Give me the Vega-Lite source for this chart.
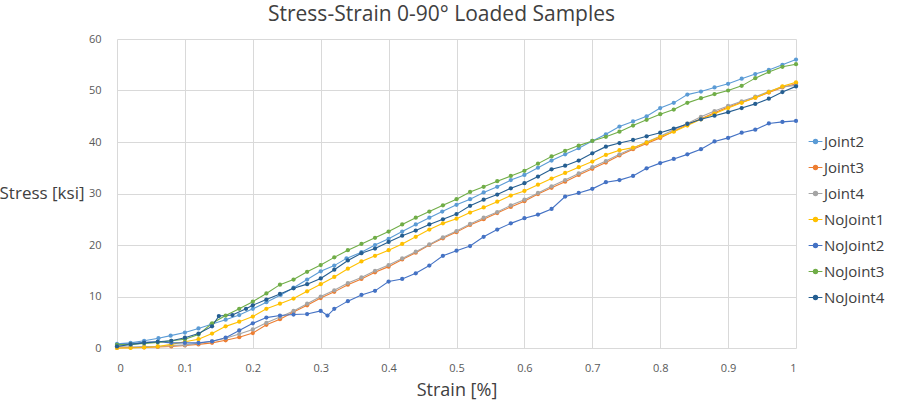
{
  "$schema": "https://vega.github.io/schema/vega-lite/v6.json",
  "width": 679,
  "height": 309,
  "autosize": {"type": "none"},
  "padding": {"left": 117, "top": 39, "right": 106, "bottom": 54},
  "background": "white",
  "title": {
    "text": "Stress-Strain 0-90° Loaded Samples",
    "font": "Open Sans",
    "fontSize": 21,
    "fontWeight": "normal",
    "color": "#404040",
    "anchor": "middle",
    "dx": -15,
    "offset": 8
  },
  "config": {
    "view": {"stroke": null},
    "axis": {
      "labelFont": "Open Sans",
      "labelFontSize": 11,
      "labelColor": "#595959",
      "titleFont": "Open Sans",
      "titleFontSize": 18,
      "titleFontWeight": "normal",
      "titleColor": "#404040",
      "gridColor": "#D9D9D9",
      "gridWidth": 1,
      "ticks": false,
      "domain": false
    },
    "legend": {
      "labelFont": "Open Sans",
      "labelFontSize": 15,
      "labelColor": "#404040"
    }
  },
  "data": {
    "values": [
      {"series": "Joint2", "strain": 0.0, "stress": 0.8},
      {"series": "Joint2", "strain": 0.02, "stress": 1.0},
      {"series": "Joint2", "strain": 0.04, "stress": 1.4},
      {"series": "Joint2", "strain": 0.061, "stress": 1.9},
      {"series": "Joint2", "strain": 0.079, "stress": 2.4},
      {"series": "Joint2", "strain": 0.1, "stress": 3.0},
      {"series": "Joint2", "strain": 0.12, "stress": 3.8},
      {"series": "Joint2", "strain": 0.139, "stress": 4.6},
      {"series": "Joint2", "strain": 0.16, "stress": 5.5},
      {"series": "Joint2", "strain": 0.18, "stress": 6.4},
      {"series": "Joint2", "strain": 0.2, "stress": 7.6},
      {"series": "Joint2", "strain": 0.22, "stress": 8.9},
      {"series": "Joint2", "strain": 0.241, "stress": 10.3},
      {"series": "Joint2", "strain": 0.26, "stress": 11.7},
      {"series": "Joint2", "strain": 0.28, "stress": 13.3},
      {"series": "Joint2", "strain": 0.3, "stress": 14.9},
      {"series": "Joint2", "strain": 0.32, "stress": 16.0},
      {"series": "Joint2", "strain": 0.338, "stress": 17.4},
      {"series": "Joint2", "strain": 0.36, "stress": 18.6},
      {"series": "Joint2", "strain": 0.38, "stress": 20.0},
      {"series": "Joint2", "strain": 0.4, "stress": 21.2},
      {"series": "Joint2", "strain": 0.42, "stress": 22.6},
      {"series": "Joint2", "strain": 0.44, "stress": 24.0},
      {"series": "Joint2", "strain": 0.46, "stress": 25.3},
      {"series": "Joint2", "strain": 0.479, "stress": 26.5},
      {"series": "Joint2", "strain": 0.5, "stress": 27.8},
      {"series": "Joint2", "strain": 0.52, "stress": 28.9},
      {"series": "Joint2", "strain": 0.54, "stress": 30.2},
      {"series": "Joint2", "strain": 0.56, "stress": 31.3},
      {"series": "Joint2", "strain": 0.58, "stress": 32.6},
      {"series": "Joint2", "strain": 0.6, "stress": 33.6},
      {"series": "Joint2", "strain": 0.62, "stress": 35.0},
      {"series": "Joint2", "strain": 0.64, "stress": 36.4},
      {"series": "Joint2", "strain": 0.66, "stress": 37.6},
      {"series": "Joint2", "strain": 0.68, "stress": 38.8},
      {"series": "Joint2", "strain": 0.7, "stress": 40.2},
      {"series": "Joint2", "strain": 0.72, "stress": 41.5},
      {"series": "Joint2", "strain": 0.74, "stress": 43.0},
      {"series": "Joint2", "strain": 0.76, "stress": 44.0},
      {"series": "Joint2", "strain": 0.78, "stress": 45.0},
      {"series": "Joint2", "strain": 0.8, "stress": 46.6},
      {"series": "Joint2", "strain": 0.82, "stress": 47.6},
      {"series": "Joint2", "strain": 0.84, "stress": 49.2},
      {"series": "Joint2", "strain": 0.86, "stress": 49.8},
      {"series": "Joint2", "strain": 0.88, "stress": 50.6},
      {"series": "Joint2", "strain": 0.9, "stress": 51.3},
      {"series": "Joint2", "strain": 0.92, "stress": 52.3},
      {"series": "Joint2", "strain": 0.94, "stress": 53.2},
      {"series": "Joint2", "strain": 0.96, "stress": 54.0},
      {"series": "Joint2", "strain": 0.98, "stress": 55.0},
      {"series": "Joint2", "strain": 1.0, "stress": 56.0},

      {"series": "Joint3", "strain": 0.0, "stress": 0.0},
      {"series": "Joint3", "strain": 0.02, "stress": 0.1},
      {"series": "Joint3", "strain": 0.04, "stress": 0.1},
      {"series": "Joint3", "strain": 0.06, "stress": 0.2},
      {"series": "Joint3", "strain": 0.08, "stress": 0.3},
      {"series": "Joint3", "strain": 0.1, "stress": 0.5},
      {"series": "Joint3", "strain": 0.12, "stress": 0.7},
      {"series": "Joint3", "strain": 0.14, "stress": 1.0},
      {"series": "Joint3", "strain": 0.16, "stress": 1.5},
      {"series": "Joint3", "strain": 0.18, "stress": 2.1},
      {"series": "Joint3", "strain": 0.2, "stress": 2.9},
      {"series": "Joint3", "strain": 0.22, "stress": 4.5},
      {"series": "Joint3", "strain": 0.24, "stress": 5.6},
      {"series": "Joint3", "strain": 0.26, "stress": 7.0},
      {"series": "Joint3", "strain": 0.28, "stress": 8.3},
      {"series": "Joint3", "strain": 0.3, "stress": 9.7},
      {"series": "Joint3", "strain": 0.32, "stress": 10.9},
      {"series": "Joint3", "strain": 0.34, "stress": 12.3},
      {"series": "Joint3", "strain": 0.36, "stress": 13.4},
      {"series": "Joint3", "strain": 0.38, "stress": 14.7},
      {"series": "Joint3", "strain": 0.4, "stress": 15.8},
      {"series": "Joint3", "strain": 0.42, "stress": 17.2},
      {"series": "Joint3", "strain": 0.44, "stress": 18.5},
      {"series": "Joint3", "strain": 0.46, "stress": 20.0},
      {"series": "Joint3", "strain": 0.48, "stress": 21.3},
      {"series": "Joint3", "strain": 0.5, "stress": 22.5},
      {"series": "Joint3", "strain": 0.52, "stress": 23.9},
      {"series": "Joint3", "strain": 0.54, "stress": 25.0},
      {"series": "Joint3", "strain": 0.56, "stress": 26.2},
      {"series": "Joint3", "strain": 0.58, "stress": 27.4},
      {"series": "Joint3", "strain": 0.6, "stress": 28.5},
      {"series": "Joint3", "strain": 0.62, "stress": 29.9},
      {"series": "Joint3", "strain": 0.64, "stress": 31.1},
      {"series": "Joint3", "strain": 0.66, "stress": 32.3},
      {"series": "Joint3", "strain": 0.68, "stress": 33.6},
      {"series": "Joint3", "strain": 0.7, "stress": 34.8},
      {"series": "Joint3", "strain": 0.72, "stress": 36.0},
      {"series": "Joint3", "strain": 0.74, "stress": 37.4},
      {"series": "Joint3", "strain": 0.76, "stress": 38.6},
      {"series": "Joint3", "strain": 0.78, "stress": 39.7},
      {"series": "Joint3", "strain": 0.8, "stress": 40.8},
      {"series": "Joint3", "strain": 0.82, "stress": 42.1},
      {"series": "Joint3", "strain": 0.84, "stress": 43.4},
      {"series": "Joint3", "strain": 0.86, "stress": 44.5},
      {"series": "Joint3", "strain": 0.88, "stress": 45.7},
      {"series": "Joint3", "strain": 0.9, "stress": 46.8},
      {"series": "Joint3", "strain": 0.92, "stress": 47.7},
      {"series": "Joint3", "strain": 0.94, "stress": 48.6},
      {"series": "Joint3", "strain": 0.96, "stress": 49.6},
      {"series": "Joint3", "strain": 0.98, "stress": 50.6},
      {"series": "Joint3", "strain": 1.0, "stress": 51.3},

      {"series": "Joint4", "strain": 0.0, "stress": 0.3},
      {"series": "Joint4", "strain": 0.02, "stress": 0.2},
      {"series": "Joint4", "strain": 0.04, "stress": 0.3},
      {"series": "Joint4", "strain": 0.06, "stress": 0.3},
      {"series": "Joint4", "strain": 0.08, "stress": 0.5},
      {"series": "Joint4", "strain": 0.1, "stress": 0.6},
      {"series": "Joint4", "strain": 0.12, "stress": 0.9},
      {"series": "Joint4", "strain": 0.14, "stress": 1.3},
      {"series": "Joint4", "strain": 0.16, "stress": 1.9},
      {"series": "Joint4", "strain": 0.18, "stress": 2.7},
      {"series": "Joint4", "strain": 0.2, "stress": 3.6},
      {"series": "Joint4", "strain": 0.22, "stress": 4.9},
      {"series": "Joint4", "strain": 0.24, "stress": 6.0},
      {"series": "Joint4", "strain": 0.26, "stress": 7.2},
      {"series": "Joint4", "strain": 0.28, "stress": 8.6},
      {"series": "Joint4", "strain": 0.3, "stress": 10.0},
      {"series": "Joint4", "strain": 0.32, "stress": 11.2},
      {"series": "Joint4", "strain": 0.34, "stress": 12.6},
      {"series": "Joint4", "strain": 0.36, "stress": 13.7},
      {"series": "Joint4", "strain": 0.38, "stress": 15.0},
      {"series": "Joint4", "strain": 0.4, "stress": 16.1},
      {"series": "Joint4", "strain": 0.42, "stress": 17.4},
      {"series": "Joint4", "strain": 0.44, "stress": 18.7},
      {"series": "Joint4", "strain": 0.46, "stress": 20.1},
      {"series": "Joint4", "strain": 0.48, "stress": 21.5},
      {"series": "Joint4", "strain": 0.5, "stress": 22.7},
      {"series": "Joint4", "strain": 0.52, "stress": 24.1},
      {"series": "Joint4", "strain": 0.54, "stress": 25.3},
      {"series": "Joint4", "strain": 0.56, "stress": 26.4},
      {"series": "Joint4", "strain": 0.58, "stress": 27.7},
      {"series": "Joint4", "strain": 0.6, "stress": 28.8},
      {"series": "Joint4", "strain": 0.62, "stress": 30.1},
      {"series": "Joint4", "strain": 0.64, "stress": 31.4},
      {"series": "Joint4", "strain": 0.66, "stress": 32.6},
      {"series": "Joint4", "strain": 0.68, "stress": 33.9},
      {"series": "Joint4", "strain": 0.7, "stress": 35.1},
      {"series": "Joint4", "strain": 0.72, "stress": 36.3},
      {"series": "Joint4", "strain": 0.74, "stress": 37.6},
      {"series": "Joint4", "strain": 0.76, "stress": 38.8},
      {"series": "Joint4", "strain": 0.78, "stress": 40.0},
      {"series": "Joint4", "strain": 0.8, "stress": 41.1},
      {"series": "Joint4", "strain": 0.82, "stress": 42.4},
      {"series": "Joint4", "strain": 0.84, "stress": 43.6},
      {"series": "Joint4", "strain": 0.86, "stress": 44.9},
      {"series": "Joint4", "strain": 0.88, "stress": 46.0},
      {"series": "Joint4", "strain": 0.9, "stress": 47.0},
      {"series": "Joint4", "strain": 0.92, "stress": 47.9},
      {"series": "Joint4", "strain": 0.94, "stress": 48.8},
      {"series": "Joint4", "strain": 0.96, "stress": 49.8},
      {"series": "Joint4", "strain": 0.98, "stress": 50.7},
      {"series": "Joint4", "strain": 1.0, "stress": 51.0},

      {"series": "NoJoint1", "strain": 0.0, "stress": 0.0},
      {"series": "NoJoint1", "strain": 0.02, "stress": 0.0},
      {"series": "NoJoint1", "strain": 0.04, "stress": 0.1},
      {"series": "NoJoint1", "strain": 0.06, "stress": 0.3},
      {"series": "NoJoint1", "strain": 0.08, "stress": 0.7},
      {"series": "NoJoint1", "strain": 0.1, "stress": 1.2},
      {"series": "NoJoint1", "strain": 0.12, "stress": 1.7},
      {"series": "NoJoint1", "strain": 0.14, "stress": 2.8},
      {"series": "NoJoint1", "strain": 0.16, "stress": 4.2},
      {"series": "NoJoint1", "strain": 0.18, "stress": 5.1},
      {"series": "NoJoint1", "strain": 0.2, "stress": 6.1},
      {"series": "NoJoint1", "strain": 0.22, "stress": 7.6},
      {"series": "NoJoint1", "strain": 0.24, "stress": 8.6},
      {"series": "NoJoint1", "strain": 0.26, "stress": 9.6},
      {"series": "NoJoint1", "strain": 0.28, "stress": 11.0},
      {"series": "NoJoint1", "strain": 0.3, "stress": 12.4},
      {"series": "NoJoint1", "strain": 0.32, "stress": 13.8},
      {"series": "NoJoint1", "strain": 0.34, "stress": 15.4},
      {"series": "NoJoint1", "strain": 0.36, "stress": 16.8},
      {"series": "NoJoint1", "strain": 0.38, "stress": 17.9},
      {"series": "NoJoint1", "strain": 0.4, "stress": 19.0},
      {"series": "NoJoint1", "strain": 0.42, "stress": 20.2},
      {"series": "NoJoint1", "strain": 0.44, "stress": 21.6},
      {"series": "NoJoint1", "strain": 0.46, "stress": 23.0},
      {"series": "NoJoint1", "strain": 0.48, "stress": 24.2},
      {"series": "NoJoint1", "strain": 0.5, "stress": 25.1},
      {"series": "NoJoint1", "strain": 0.52, "stress": 26.3},
      {"series": "NoJoint1", "strain": 0.54, "stress": 27.3},
      {"series": "NoJoint1", "strain": 0.56, "stress": 28.4},
      {"series": "NoJoint1", "strain": 0.58, "stress": 29.6},
      {"series": "NoJoint1", "strain": 0.6, "stress": 30.5},
      {"series": "NoJoint1", "strain": 0.62, "stress": 31.7},
      {"series": "NoJoint1", "strain": 0.64, "stress": 32.9},
      {"series": "NoJoint1", "strain": 0.66, "stress": 34.0},
      {"series": "NoJoint1", "strain": 0.68, "stress": 35.1},
      {"series": "NoJoint1", "strain": 0.7, "stress": 36.2},
      {"series": "NoJoint1", "strain": 0.72, "stress": 37.5},
      {"series": "NoJoint1", "strain": 0.74, "stress": 38.4},
      {"series": "NoJoint1", "strain": 0.76, "stress": 38.9},
      {"series": "NoJoint1", "strain": 0.78, "stress": 39.9},
      {"series": "NoJoint1", "strain": 0.8, "stress": 41.0},
      {"series": "NoJoint1", "strain": 0.82, "stress": 42.0},
      {"series": "NoJoint1", "strain": 0.84, "stress": 43.2},
      {"series": "NoJoint1", "strain": 0.86, "stress": 44.4},
      {"series": "NoJoint1", "strain": 0.88, "stress": 45.5},
      {"series": "NoJoint1", "strain": 0.9, "stress": 46.6},
      {"series": "NoJoint1", "strain": 0.92, "stress": 47.6},
      {"series": "NoJoint1", "strain": 0.94, "stress": 48.6},
      {"series": "NoJoint1", "strain": 0.96, "stress": 49.7},
      {"series": "NoJoint1", "strain": 0.98, "stress": 50.8},
      {"series": "NoJoint1", "strain": 1.0, "stress": 51.6},

      {"series": "NoJoint2", "strain": 0.0, "stress": 0.6},
      {"series": "NoJoint2", "strain": 0.02, "stress": 0.8},
      {"series": "NoJoint2", "strain": 0.04, "stress": 1.1},
      {"series": "NoJoint2", "strain": 0.06, "stress": 1.2},
      {"series": "NoJoint2", "strain": 0.08, "stress": 1.0},
      {"series": "NoJoint2", "strain": 0.1, "stress": 1.0},
      {"series": "NoJoint2", "strain": 0.12, "stress": 1.0},
      {"series": "NoJoint2", "strain": 0.14, "stress": 1.3},
      {"series": "NoJoint2", "strain": 0.16, "stress": 2.0},
      {"series": "NoJoint2", "strain": 0.18, "stress": 3.4},
      {"series": "NoJoint2", "strain": 0.2, "stress": 4.8},
      {"series": "NoJoint2", "strain": 0.22, "stress": 5.9},
      {"series": "NoJoint2", "strain": 0.24, "stress": 6.3},
      {"series": "NoJoint2", "strain": 0.26, "stress": 6.5},
      {"series": "NoJoint2", "strain": 0.28, "stress": 6.6},
      {"series": "NoJoint2", "strain": 0.3, "stress": 7.2},
      {"series": "NoJoint2", "strain": 0.31, "stress": 6.3},
      {"series": "NoJoint2", "strain": 0.32, "stress": 7.6},
      {"series": "NoJoint2", "strain": 0.34, "stress": 9.1},
      {"series": "NoJoint2", "strain": 0.36, "stress": 10.3},
      {"series": "NoJoint2", "strain": 0.38, "stress": 11.1},
      {"series": "NoJoint2", "strain": 0.4, "stress": 12.9},
      {"series": "NoJoint2", "strain": 0.42, "stress": 13.4},
      {"series": "NoJoint2", "strain": 0.44, "stress": 14.5},
      {"series": "NoJoint2", "strain": 0.46, "stress": 16.0},
      {"series": "NoJoint2", "strain": 0.48, "stress": 17.9},
      {"series": "NoJoint2", "strain": 0.5, "stress": 18.9},
      {"series": "NoJoint2", "strain": 0.52, "stress": 19.8},
      {"series": "NoJoint2", "strain": 0.54, "stress": 21.6},
      {"series": "NoJoint2", "strain": 0.56, "stress": 23.0},
      {"series": "NoJoint2", "strain": 0.58, "stress": 24.2},
      {"series": "NoJoint2", "strain": 0.6, "stress": 25.2},
      {"series": "NoJoint2", "strain": 0.62, "stress": 25.9},
      {"series": "NoJoint2", "strain": 0.64, "stress": 27.0},
      {"series": "NoJoint2", "strain": 0.66, "stress": 29.4},
      {"series": "NoJoint2", "strain": 0.68, "stress": 30.1},
      {"series": "NoJoint2", "strain": 0.7, "stress": 30.9},
      {"series": "NoJoint2", "strain": 0.72, "stress": 32.2},
      {"series": "NoJoint2", "strain": 0.74, "stress": 32.6},
      {"series": "NoJoint2", "strain": 0.76, "stress": 33.4},
      {"series": "NoJoint2", "strain": 0.78, "stress": 34.9},
      {"series": "NoJoint2", "strain": 0.8, "stress": 35.9},
      {"series": "NoJoint2", "strain": 0.82, "stress": 36.7},
      {"series": "NoJoint2", "strain": 0.84, "stress": 37.6},
      {"series": "NoJoint2", "strain": 0.86, "stress": 38.6},
      {"series": "NoJoint2", "strain": 0.88, "stress": 40.1},
      {"series": "NoJoint2", "strain": 0.9, "stress": 40.8},
      {"series": "NoJoint2", "strain": 0.92, "stress": 41.8},
      {"series": "NoJoint2", "strain": 0.94, "stress": 42.4},
      {"series": "NoJoint2", "strain": 0.96, "stress": 43.6},
      {"series": "NoJoint2", "strain": 0.98, "stress": 43.9},
      {"series": "NoJoint2", "strain": 1.0, "stress": 44.1},

      {"series": "NoJoint3", "strain": 0.0, "stress": 0.6},
      {"series": "NoJoint3", "strain": 0.02, "stress": 0.7},
      {"series": "NoJoint3", "strain": 0.04, "stress": 0.9},
      {"series": "NoJoint3", "strain": 0.06, "stress": 1.1},
      {"series": "NoJoint3", "strain": 0.08, "stress": 1.4},
      {"series": "NoJoint3", "strain": 0.1, "stress": 1.7},
      {"series": "NoJoint3", "strain": 0.12, "stress": 2.6},
      {"series": "NoJoint3", "strain": 0.14, "stress": 4.8},
      {"series": "NoJoint3", "strain": 0.16, "stress": 6.3},
      {"series": "NoJoint3", "strain": 0.18, "stress": 7.6},
      {"series": "NoJoint3", "strain": 0.2, "stress": 9.0},
      {"series": "NoJoint3", "strain": 0.22, "stress": 10.6},
      {"series": "NoJoint3", "strain": 0.24, "stress": 12.3},
      {"series": "NoJoint3", "strain": 0.26, "stress": 13.3},
      {"series": "NoJoint3", "strain": 0.28, "stress": 14.8},
      {"series": "NoJoint3", "strain": 0.3, "stress": 16.1},
      {"series": "NoJoint3", "strain": 0.32, "stress": 17.6},
      {"series": "NoJoint3", "strain": 0.34, "stress": 19.0},
      {"series": "NoJoint3", "strain": 0.36, "stress": 20.2},
      {"series": "NoJoint3", "strain": 0.38, "stress": 21.4},
      {"series": "NoJoint3", "strain": 0.4, "stress": 22.6},
      {"series": "NoJoint3", "strain": 0.42, "stress": 24.0},
      {"series": "NoJoint3", "strain": 0.44, "stress": 25.3},
      {"series": "NoJoint3", "strain": 0.46, "stress": 26.5},
      {"series": "NoJoint3", "strain": 0.48, "stress": 27.7},
      {"series": "NoJoint3", "strain": 0.5, "stress": 28.9},
      {"series": "NoJoint3", "strain": 0.52, "stress": 30.3},
      {"series": "NoJoint3", "strain": 0.54, "stress": 31.3},
      {"series": "NoJoint3", "strain": 0.56, "stress": 32.4},
      {"series": "NoJoint3", "strain": 0.58, "stress": 33.4},
      {"series": "NoJoint3", "strain": 0.6, "stress": 34.4},
      {"series": "NoJoint3", "strain": 0.62, "stress": 35.8},
      {"series": "NoJoint3", "strain": 0.64, "stress": 37.2},
      {"series": "NoJoint3", "strain": 0.66, "stress": 38.3},
      {"series": "NoJoint3", "strain": 0.68, "stress": 39.3},
      {"series": "NoJoint3", "strain": 0.7, "stress": 40.2},
      {"series": "NoJoint3", "strain": 0.72, "stress": 41.0},
      {"series": "NoJoint3", "strain": 0.74, "stress": 42.0},
      {"series": "NoJoint3", "strain": 0.76, "stress": 43.2},
      {"series": "NoJoint3", "strain": 0.78, "stress": 44.3},
      {"series": "NoJoint3", "strain": 0.8, "stress": 45.4},
      {"series": "NoJoint3", "strain": 0.82, "stress": 46.3},
      {"series": "NoJoint3", "strain": 0.84, "stress": 47.6},
      {"series": "NoJoint3", "strain": 0.86, "stress": 48.5},
      {"series": "NoJoint3", "strain": 0.88, "stress": 49.3},
      {"series": "NoJoint3", "strain": 0.9, "stress": 50.0},
      {"series": "NoJoint3", "strain": 0.92, "stress": 50.9},
      {"series": "NoJoint3", "strain": 0.94, "stress": 52.4},
      {"series": "NoJoint3", "strain": 0.96, "stress": 53.6},
      {"series": "NoJoint3", "strain": 0.98, "stress": 54.6},
      {"series": "NoJoint3", "strain": 1.0, "stress": 55.1},

      {"series": "NoJoint4", "strain": 0.0, "stress": 0.3},
      {"series": "NoJoint4", "strain": 0.02, "stress": 0.7},
      {"series": "NoJoint4", "strain": 0.04, "stress": 1.0},
      {"series": "NoJoint4", "strain": 0.06, "stress": 1.2},
      {"series": "NoJoint4", "strain": 0.08, "stress": 1.4},
      {"series": "NoJoint4", "strain": 0.1, "stress": 2.0},
      {"series": "NoJoint4", "strain": 0.12, "stress": 2.8},
      {"series": "NoJoint4", "strain": 0.14, "stress": 4.2},
      {"series": "NoJoint4", "strain": 0.15, "stress": 6.2},
      {"series": "NoJoint4", "strain": 0.17, "stress": 6.4},
      {"series": "NoJoint4", "strain": 0.19, "stress": 7.6},
      {"series": "NoJoint4", "strain": 0.2, "stress": 8.3},
      {"series": "NoJoint4", "strain": 0.22, "stress": 9.4},
      {"series": "NoJoint4", "strain": 0.24, "stress": 10.5},
      {"series": "NoJoint4", "strain": 0.26, "stress": 11.6},
      {"series": "NoJoint4", "strain": 0.28, "stress": 12.4},
      {"series": "NoJoint4", "strain": 0.3, "stress": 13.5},
      {"series": "NoJoint4", "strain": 0.32, "stress": 15.2},
      {"series": "NoJoint4", "strain": 0.34, "stress": 17.0},
      {"series": "NoJoint4", "strain": 0.36, "stress": 18.4},
      {"series": "NoJoint4", "strain": 0.38, "stress": 19.3},
      {"series": "NoJoint4", "strain": 0.4, "stress": 20.6},
      {"series": "NoJoint4", "strain": 0.42, "stress": 21.8},
      {"series": "NoJoint4", "strain": 0.44, "stress": 22.8},
      {"series": "NoJoint4", "strain": 0.46, "stress": 24.0},
      {"series": "NoJoint4", "strain": 0.48, "stress": 25.0},
      {"series": "NoJoint4", "strain": 0.5, "stress": 26.0},
      {"series": "NoJoint4", "strain": 0.52, "stress": 27.6},
      {"series": "NoJoint4", "strain": 0.54, "stress": 28.8},
      {"series": "NoJoint4", "strain": 0.56, "stress": 29.8},
      {"series": "NoJoint4", "strain": 0.58, "stress": 31.0},
      {"series": "NoJoint4", "strain": 0.6, "stress": 32.0},
      {"series": "NoJoint4", "strain": 0.62, "stress": 33.3},
      {"series": "NoJoint4", "strain": 0.64, "stress": 34.7},
      {"series": "NoJoint4", "strain": 0.66, "stress": 35.4},
      {"series": "NoJoint4", "strain": 0.68, "stress": 36.4},
      {"series": "NoJoint4", "strain": 0.7, "stress": 37.8},
      {"series": "NoJoint4", "strain": 0.72, "stress": 39.1},
      {"series": "NoJoint4", "strain": 0.74, "stress": 39.8},
      {"series": "NoJoint4", "strain": 0.76, "stress": 40.4},
      {"series": "NoJoint4", "strain": 0.78, "stress": 41.1},
      {"series": "NoJoint4", "strain": 0.8, "stress": 41.8},
      {"series": "NoJoint4", "strain": 0.82, "stress": 42.6},
      {"series": "NoJoint4", "strain": 0.84, "stress": 43.5},
      {"series": "NoJoint4", "strain": 0.86, "stress": 44.4},
      {"series": "NoJoint4", "strain": 0.88, "stress": 45.1},
      {"series": "NoJoint4", "strain": 0.9, "stress": 45.8},
      {"series": "NoJoint4", "strain": 0.92, "stress": 46.6},
      {"series": "NoJoint4", "strain": 0.94, "stress": 47.4},
      {"series": "NoJoint4", "strain": 0.96, "stress": 48.4},
      {"series": "NoJoint4", "strain": 0.98, "stress": 49.7},
      {"series": "NoJoint4", "strain": 1.0, "stress": 50.8}
    ]
  },
  "encoding": {
    "x": {
      "field": "strain",
      "type": "quantitative",
      "scale": {"domain": [0, 1], "nice": false},
      "axis": {
        "title": "Strain [%]",
        "values": [0, 0.1, 0.2, 0.3, 0.4, 0.5, 0.6, 0.7, 0.8, 0.9, 1],
        "format": "~g",
        "labelPadding": 14,
        "titlePadding": 8
      }
    },
    "y": {
      "field": "stress",
      "type": "quantitative",
      "scale": {"domain": [0, 60], "nice": false},
      "axis": {
        "title": "Stress [ksi]",
        "values": [0, 10, 20, 30, 40, 50, 60],
        "labelPadding": 16,
        "titleFontSize": 17,
        "titleAngle": 0,
        "titleAlign": "right",
        "titleBaseline": "middle",
        "titleX": -33,
        "titleY": 154
      }
    },
    "color": {
      "field": "series",
      "type": "nominal",
      "scale": {
        "domain": ["Joint2", "Joint3", "Joint4", "NoJoint1", "NoJoint2", "NoJoint3", "NoJoint4"],
        "range": ["#5B9BD5", "#ED7D31", "#A5A5A5", "#FFC000", "#4472C4", "#70AD47", "#255E91"]
      },
      "legend": {
        "title": null,
        "orient": "none",
        "legendX": 691,
        "legendY": 95,
        "symbolType": "M-1,0H1M-0.3,0a0.3,0.3 0 1,0 0.6,0a0.3,0.3 0 1,0 -0.6,0",
        "symbolSize": 190,
        "symbolStrokeWidth": 1.2,
        "labelOffset": 1,
        "rowPadding": 10
      }
    }
  },
  "layer": [
    {"mark": {"type": "line", "strokeWidth": 1.1}},
    {"mark": {"type": "point", "filled": true, "size": 18, "opacity": 1}}
  ]
}
